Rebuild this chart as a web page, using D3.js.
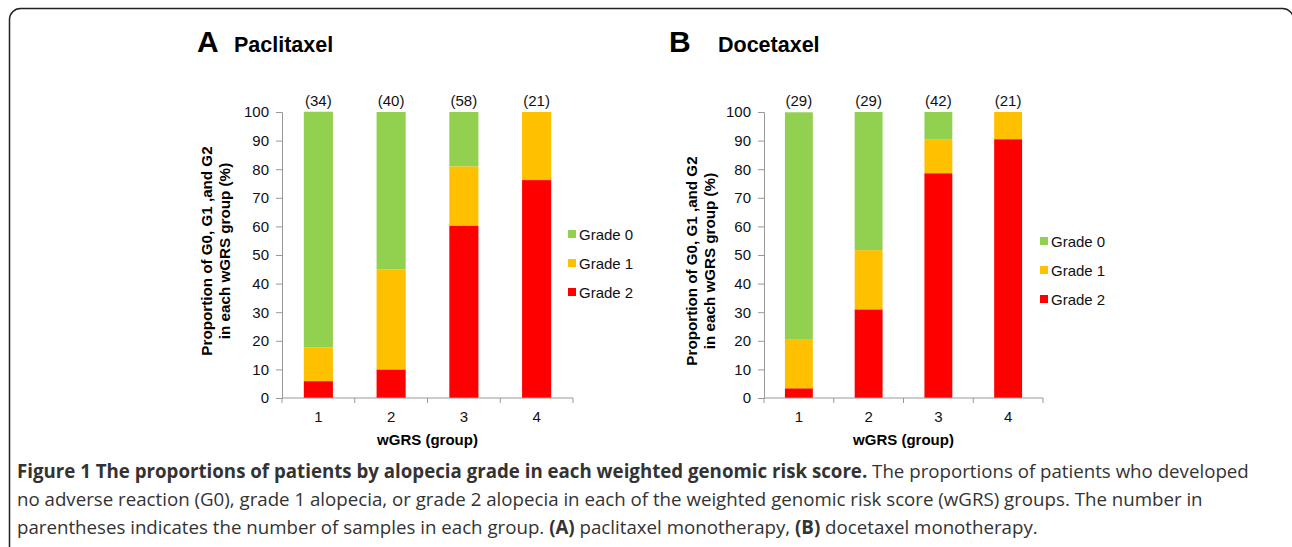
<!DOCTYPE html>
<html lang="en">
<head>
  <meta charset="UTF-8">
  <title>Alopecia grade by wGRS</title>
  <script src="https://d3js.org/d3.v7.min.js"></script>
  <style>
    body { margin: 0; background: #fff; }
    svg text { font-family: "Liberation Sans", Arial, Helvetica, sans-serif; }
    svg text.cap { font-family: "Open Sans", "Noto Sans", sans-serif; font-size: 18.7px; fill: #333; }
  </style>
</head>
<body>
  <script>
    const groups = ["1", "2", "3", "4"];
    const grades = ["Grade 2", "Grade 1", "Grade 0"];
    const gradeColors = ["#ff0000", "#ffc000", "#92d050"];

    // percentages per group (bottom to top: G2, G1, G0)
    const paclitaxelG2 = [5.9, 10.0, 60.3, 76.2];
    const paclitaxelG1 = [11.8, 35.0, 20.7, 23.8];
    const paclitaxelG0 = [82.4, 55.0, 19.0, 0];
    const paclitaxelN = [34, 40, 58, 21];

    const docetaxelG2 = [3.4, 31.0, 78.6, 90.5];
    const docetaxelG1 = [17.2, 20.7, 11.9, 9.5];
    const docetaxelG0 = [79.3, 48.3, 9.5, 0];
    const docetaxelN = [29, 29, 42, 21];

    const yTicks = [0, 10, 20, 30, 40, 50, 60, 70, 80, 90, 100];

    const fs = 15;

    const svg = d3.select("body")
      .append("svg")
      .attr("width", 1292)
      .attr("height", 547);

    // figure frame
    svg.append("rect")
      .attr("x", 9.5)
      .attr("y", 8.5)
      .attr("width", 1284)
      .attr("height", 600)
      .attr("rx", 11)
      .attr("fill", "none")
      .attr("stroke", "#222")
      .attr("stroke-width", 1.5);

    const drawPanel = (cfg) => {
      const g = svg.append("g");
      const x = d3.scaleBand().domain(groups).range([cfg.x0, cfg.x1]).paddingInner(0.6).paddingOuter(0.3);
      const xb = d3.scaleBand().domain(groups).range([cfg.x0, cfg.x1]);
      const y = d3.scaleLinear().domain([0, 100]).range([398, 112]);

      const rows = groups.map((grp, i) => ({ grp: grp, "Grade 2": cfg.g2[i], "Grade 1": cfg.g1[i], "Grade 0": cfg.g0[i] }));
      const stacked = d3.stack().keys(grades)(rows);

      g.selectAll(".layer")
        .data(stacked)
        .join("g")
        .attr("fill", (d, i) => gradeColors[i])
        .selectAll("rect")
        .data(d => d)
        .join("rect")
        .attr("x", d => x(d.data.grp))
        .attr("y", d => y(d[1]))
        .attr("width", x.bandwidth())
        .attr("height", d => y(d[0]) - y(d[1]));

      // y axis
      const yAxis = g.append("g")
        .attr("transform", `translate(${cfg.x0},0)`)
        .call(d3.axisLeft(y).tickValues(yTicks).tickSize(6).tickPadding(7));
      yAxis.select(".domain").attr("stroke", "#999");
      yAxis.selectAll(".tick line").attr("stroke", "#999");
      yAxis.selectAll("text").attr("font-size", fs).attr("fill", "#111");

      // x axis with ticks at band boundaries
      const xAxis = g.append("g").attr("transform", "translate(0,398)");
      xAxis.append("line")
        .attr("x1", cfg.x0).attr("x2", cfg.x1)
        .attr("stroke", "#999");
      xAxis.selectAll(".bt")
        .data(groups.concat(["end"]))
        .join("line")
        .attr("x1", (d, i) => i < groups.length ? xb(d) : cfg.x1)
        .attr("x2", (d, i) => i < groups.length ? xb(d) : cfg.x1)
        .attr("y1", 0).attr("y2", 5)
        .attr("stroke", "#999");
      xAxis.selectAll(".lbl")
        .data(groups)
        .join("text")
        .attr("x", d => x(d) + x.bandwidth() / 2)
        .attr("y", 24)
        .attr("text-anchor", "middle")
        .attr("font-size", fs)
        .attr("fill", "#111")
        .text(d => d);

      g.append("text")
        .attr("x", (cfg.x0 + cfg.x1) / 2)
        .attr("y", 445)
        .attr("text-anchor", "middle")
        .attr("font-size", fs)
        .attr("font-weight", "bold")
        .text("wGRS (group)");

      // n labels
      g.selectAll(".n")
        .data(cfg.n)
        .join("text")
        .attr("x", (d, i) => x(groups[i]) + x.bandwidth() / 2)
        .attr("y", 106)
        .attr("text-anchor", "middle")
        .attr("font-size", fs)
        .attr("fill", "#111")
        .text(d => `(${d})`);

      // y label
      const yl = g.append("text")
        .attr("transform", `translate(${cfg.ylx},${cfg.yly}) rotate(-90)`)
        .attr("text-anchor", "middle")
        .attr("font-size", 15.2)
        .attr("font-weight", "bold");
      yl.append("tspan").attr("x", 0).attr("y", 0).text("Proportion of G0, G1 ,and G2");
      yl.append("tspan").attr("x", 0).attr("y", 18).text("in each wGRS group (%)");

      // legend (top-down Grade 0, 1, 2)
      const leg = g.selectAll(".leg")
        .data([2, 1, 0])
        .join("g")
        .attr("transform", (d, i) => `translate(${cfg.legX},${cfg.legY + i * 29})`);
      leg.append("rect")
        .attr("x", 0).attr("y", -4)
        .attr("width", 8).attr("height", 8)
        .attr("fill", d => gradeColors[d]);
      leg.append("text")
        .attr("x", 11).attr("y", 5.5)
        .attr("font-size", fs)
        .attr("fill", "#111")
        .text(d => grades[d]);

      // panel titles
      g.append("text")
        .attr("x", cfg.letterX).attr("y", 52)
        .attr("font-size", 30).attr("font-weight", "bold")
        .text(cfg.letter);
      g.append("text")
        .attr("x", cfg.titleX).attr("y", 52)
        .attr("font-size", 21.5).attr("font-weight", "bold")
        .text(cfg.title);
    };

    drawPanel({
      x0: 282, x1: 573, g2: paclitaxelG2, g1: paclitaxelG1, g0: paclitaxelG0, n: paclitaxelN,
      ylx: 212, yly: 251, legX: 568, legY: 234,
      letter: "A", letterX: 197, title: "Paclitaxel", titleX: 234
    });
    drawPanel({
      x0: 764, x1: 1043, g2: docetaxelG2, g1: docetaxelG1, g0: docetaxelG0, n: docetaxelN,
      ylx: 697, yly: 261, legX: 1040, legY: 241,
      letter: "B", letterX: 669, title: "Docetaxel", titleX: 718
    });

    // caption
    const cap = svg.append("g");
    const l1 = cap.append("text").attr("class", "cap").attr("x", 17).attr("y", 478);
    l1.append("tspan").attr("font-weight", "bold").text("Figure 1 The proportions of patients by alopecia grade in each weighted genomic risk score.");
    l1.append("tspan").text(" The proportions of patients who developed");
    cap.append("text").attr("class", "cap").attr("x", 17).attr("y", 506)
      .text("no adverse reaction (G0), grade 1 alopecia, or grade 2 alopecia in each of the weighted genomic risk score (wGRS) groups. The number in");
    const l3 = cap.append("text").attr("class", "cap").attr("x", 17).attr("y", 534);
    l3.append("tspan").text("parentheses indicates the number of samples in each group. ");
    l3.append("tspan").attr("font-weight", "bold").text("(A)");
    l3.append("tspan").text(" paclitaxel monotherapy, ");
    l3.append("tspan").attr("font-weight", "bold").text("(B)");
    l3.append("tspan").text(" docetaxel monotherapy.");
  </script>
</body>
</html>
